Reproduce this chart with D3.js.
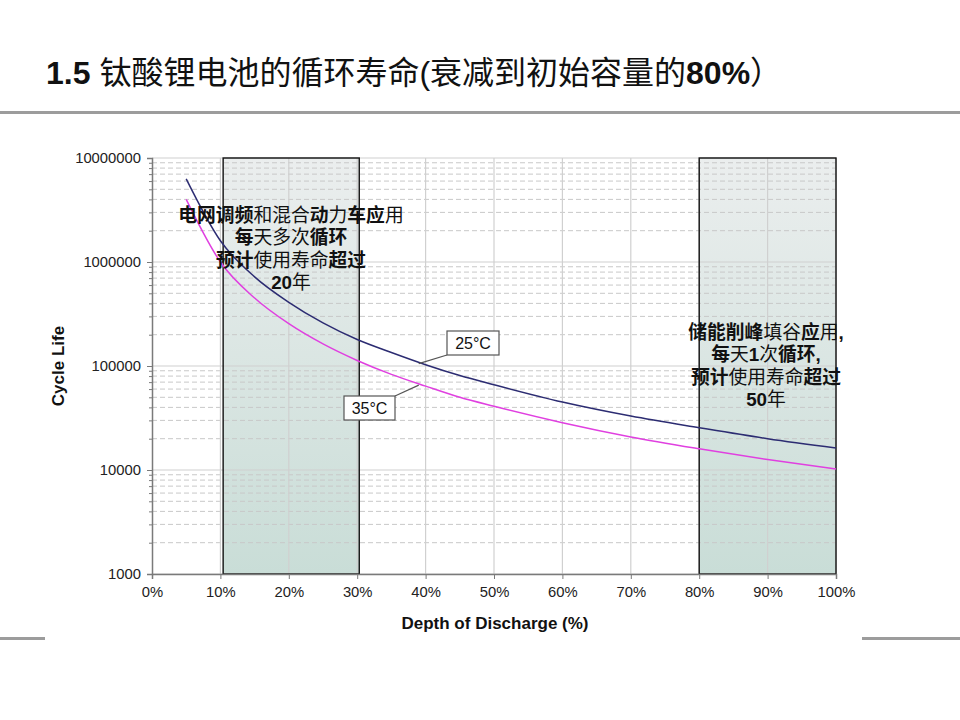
<!DOCTYPE html>
<html>
<head>
<meta charset="utf-8">
<script src="https://cdn.jsdelivr.net/npm/d3@7/dist/d3.min.js"></script>
<style>
  body { margin: 0; background: #fff; }
  text { font-family: "Liberation Sans", Arial, sans-serif; }
  .cjk { font-family: "Liberation Sans", "Noto Sans CJK SC", sans-serif; }
</style>
</head>
<body>
<script>
const svgW = 960;
const svgH = 720;
const plot = { left: 152, right: 836, top: 158, bottom: 574 };

// 数据
const dod = [5, 10, 15, 20, 25, 30, 35, 40, 45, 50, 60, 70, 80, 90, 100];
const life25 = [6300000, 1600000, 720000, 410000, 260000, 180000, 135000, 103000, 81000, 66000, 45000, 33000, 25500, 20000, 16300];
const life35 = [4000000, 1000000, 450000, 255000, 163000, 113000, 83000, 64000, 50000, 41000, 28500, 20800, 16000, 12600, 10200];
const xTicks = [0, 10, 20, 30, 40, 50, 60, 70, 80, 90, 100];
const yTicks = [1000, 10000, 100000, 1000000, 10000000];
const zones = [[10.4, 30.3], [80, 100]];
const notes = [
  ['电网调频和混合动力车应用', '每天多次循环', '预计使用寿命超过', '20年'],
  ['储能削峰填谷应用,', '每天1次循环,', '预计使用寿命超过', '50年']
];
const boldChars = '电网调频动车应每循环预计超过储能削峰1,2050';
const callouts = ['25°C', '35°C'];

const svg = d3.select('body')
              .append('svg')
              .attr('width', svgW)
              .attr('height', svgH);

const defs = svg.append('defs');
const grad = defs.append('linearGradient')
                 .attr('id', 'zoneFill')
                 .attr('x1', 0).attr('y1', 0)
                 .attr('x2', 0).attr('y2', 1);
grad.append('stop').attr('offset', '0%').attr('stop-color', '#ebeeee');
grad.append('stop').attr('offset', '100%').attr('stop-color', '#c9ddd7');

// 标题
const title = svg.append('text')
                 .attr('class', 'cjk')
                 .attr('x', 46)
                 .attr('y', 84)
                 .attr('font-size', 32)
                 .attr('fill', '#111');
title.append('tspan').attr('font-weight', 'bold').text('1.5 ');
title.append('tspan').attr('font-family', 'Noto Sans CJK SC').text('钛酸锂电池的循环寿命');
title.append('tspan').text('(');
title.append('tspan').attr('font-family', 'Noto Sans CJK SC').text('衰减到初始容量的');
title.append('tspan').attr('font-weight', 'bold').text('80%');
title.append('tspan').attr('font-family', 'Noto Sans CJK SC').text('）');

svg.append('rect').attr('x', 0).attr('y', 111).attr('width', svgW).attr('height', 3).attr('fill', '#9c9c9c');
svg.append('rect').attr('x', 0).attr('y', 637).attr('width', 45).attr('height', 3).attr('fill', '#9c9c9c');
svg.append('rect').attr('x', 862).attr('y', 637).attr('width', 98).attr('height', 3).attr('fill', '#9c9c9c');

// 比例尺
const xScale = d3.scaleLinear()
                 .domain([0, 100])
                 .range([plot.left, plot.right]);
const yScale = d3.scaleLog()
                 .domain([1000, 10000000])
                 .range([plot.bottom, plot.top]);

// 区域底色
svg.append('g')
   .selectAll('rect')
   .data(zones)
   .enter()
   .append('rect')
   .attr('x', d => xScale(d[0]))
   .attr('y', plot.top)
   .attr('width', d => xScale(d[1]) - xScale(d[0]))
   .attr('height', plot.bottom - plot.top)
   .attr('fill', 'url(#zoneFill)');

// 网格
const minor = [];
yTicks.slice(0, -1).forEach(t => {
  for (let k = 2; k <= 9; k++) minor.push(t * k);
});
const grid = svg.append('g');
grid.selectAll('.minor')
    .data(minor)
    .enter()
    .append('line')
    .attr('x1', plot.left).attr('x2', plot.right)
    .attr('y1', d => yScale(d)).attr('y2', d => yScale(d))
    .attr('stroke', '#c8c8c8')
    .attr('stroke-dasharray', '5,3');
grid.selectAll('.major')
    .data(yTicks)
    .enter()
    .append('line')
    .attr('x1', plot.left).attr('x2', plot.right)
    .attr('y1', d => yScale(d)).attr('y2', d => yScale(d))
    .attr('stroke', '#cfcfcf')
    .attr('stroke-width', 1.2);
grid.selectAll('.vert')
    .data(xTicks.slice(1))
    .enter()
    .append('line')
    .attr('x1', d => xScale(d)).attr('x2', d => xScale(d))
    .attr('y1', plot.top).attr('y2', plot.bottom)
    .attr('stroke', '#d0d0d0')
    .attr('stroke-width', 1.2);

// 区域边框
svg.append('g')
   .selectAll('rect')
   .data(zones)
   .enter()
   .append('rect')
   .attr('x', d => xScale(d[0]))
   .attr('y', plot.top)
   .attr('width', d => xScale(d[1]) - xScale(d[0]))
   .attr('height', plot.bottom - plot.top)
   .attr('fill', 'none')
   .attr('stroke', '#111')
   .attr('stroke-width', 1.4);

// 坐标轴
const xAxis = d3.axisBottom(xScale)
                .tickValues(xTicks)
                .tickSize(5)
                .tickPadding(7)
                .tickFormat(d => d + '%');
const gx = svg.append('g')
              .attr('transform', `translate(0, ${plot.bottom})`)
              .call(xAxis);

const yAxis = d3.axisLeft(yScale)
                .tickValues(yTicks)
                .tickSize(5)
                .tickPadding(6)
                .tickFormat(d3.format('d'));
const gy = svg.append('g')
              .attr('transform', `translate(${plot.left}, 0)`)
              .call(yAxis);
const gyMinor = svg.append('g')
                   .attr('transform', `translate(${plot.left}, 0)`)
                   .call(d3.axisLeft(yScale).tickValues(minor).tickSize(3).tickFormat(''));
gyMinor.select('.domain').remove();

[gx, gy, gyMinor].forEach(g => {
  g.attr('font-size', null);
  g.select('.domain').attr('stroke', '#7a7a7a').attr('stroke-width', 1.5);
  g.selectAll('.tick line').attr('stroke', '#7a7a7a');
  g.selectAll('.tick text')
   .attr('font-family', '"Liberation Sans", Arial, sans-serif')
   .attr('font-size', 14.8)
   .attr('fill', '#222');
});

svg.append('text')
   .attr('transform', 'translate(64, 366) rotate(-90)')
   .attr('text-anchor', 'middle')
   .attr('font-size', 17)
   .attr('font-weight', 'bold')
   .attr('fill', '#111')
   .text('Cycle Life');
svg.append('text')
   .attr('x', 495)
   .attr('y', 629)
   .attr('text-anchor', 'middle')
   .attr('font-size', 17)
   .attr('font-weight', 'bold')
   .attr('fill', '#111')
   .text('Depth of Discharge (%)');

// 曲线
const line = d3.line()
               .x((d, i) => xScale(dod[i]))
               .y(d => yScale(d))
               .curve(d3.curveMonotoneX);
svg.append('path')
   .attr('d', line(life35))
   .attr('fill', 'none')
   .attr('stroke', '#e040e0')
   .attr('stroke-width', 1.5);
svg.append('path')
   .attr('d', line(life25))
   .attr('fill', 'none')
   .attr('stroke', '#2c2c72')
   .attr('stroke-width', 1.5);

// 标注
const at = dod.indexOf(40);
const callBox = [
  { x: 447, y: 331, w: 52, h: 24, cx: 447, cy: 355, v: life25[at] },
  { x: 344, y: 396, w: 51, h: 24, cx: 395, cy: 396, v: life35[at] }
];
callBox.forEach((b, i) => {
  svg.append('line')
     .attr('x1', b.cx).attr('y1', b.cy)
     .attr('x2', xScale(39)).attr('y2', yScale(b.v) - 1)
     .attr('stroke', '#555')
     .attr('stroke-width', 1.2);
  svg.append('rect')
     .attr('x', b.x).attr('y', b.y)
     .attr('width', b.w).attr('height', b.h)
     .attr('fill', '#fff')
     .attr('stroke', '#555')
     .attr('stroke-width', 1.2);
  svg.append('text')
     .attr('x', b.x + b.w / 2)
     .attr('y', b.y + 18)
     .attr('text-anchor', 'middle')
     .attr('font-size', 16)
     .attr('fill', '#111')
     .text(callouts[i]);
});

// 按粗细分段
function runs(s) {
  const out = [];
  Array.from(s).forEach(c => {
    const b = boldChars.includes(c);
    const last = out[out.length - 1];
    if (last && last.b === b) last.s += c;
    else out.push({ b: b, s: c });
  });
  return out;
}

const noteCx = [291, 766];
const noteTop = [222, 339];
notes.forEach((lines, n) => {
  lines.forEach((s, j) => {
    const t = svg.append('text')
                 .attr('class', 'cjk')
                 .attr('x', noteCx[n])
                 .attr('y', noteTop[n] + j * 22.3)
                 .attr('text-anchor', 'middle')
                 .attr('font-size', 18.8)
                 .attr('fill', '#111');
    runs(s).forEach(r => {
      t.append('tspan')
       .attr('font-weight', r.b ? 'bold' : 'normal')
       .text(r.s);
    });
  });
});
</script>
</body>
</html>
